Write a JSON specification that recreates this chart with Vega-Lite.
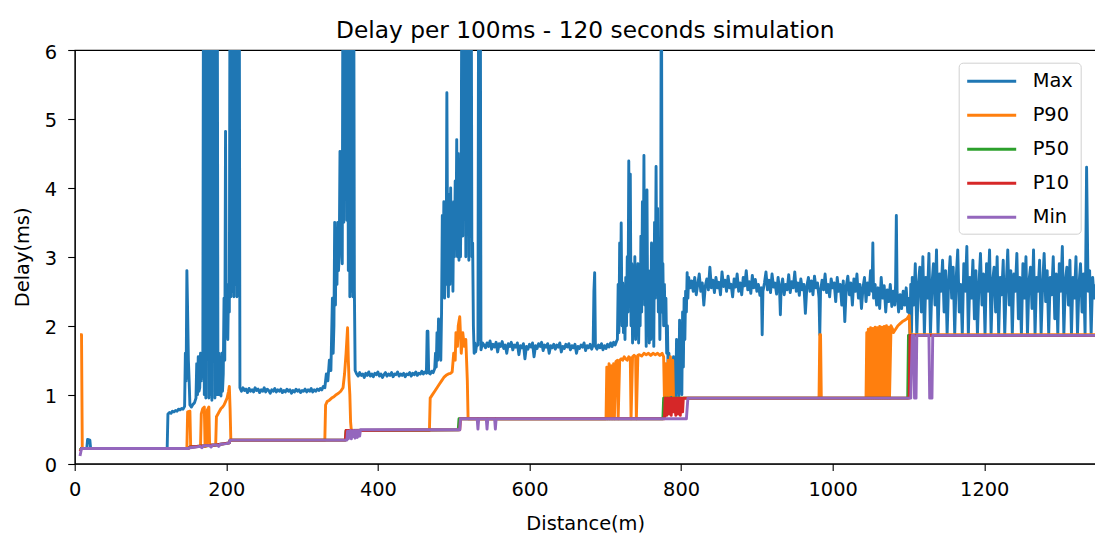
{
"$schema": "https://vega.github.io/schema/vega-lite/v6.json",
"autosize": {"type": "none"},
"padding": {"left": 74.7, "top": 50, "right": 0, "bottom": 71.4},
"width": 1021,
"height": 413.6,
"background": "white",
"title": {"text": "Delay per 100ms - 120 seconds simulation", "fontSize": 23.3, "font": "DejaVu Sans", "fontWeight": "normal", "color": "black", "anchor": "middle", "frame": "group", "baseline": "alphabetic", "offset": 14, "dy": 33},
"config": {
  "view": {"stroke": "black", "strokeWidth": 1.1},
  "axis": {"domainColor": "black", "tickColor": "black", "labelColor": "black", "titleColor": "black", "labelFont": "DejaVu Sans", "titleFont": "DejaVu Sans", "labelFontSize": 19.4, "titleFontSize": 19.4, "titleFontWeight": "normal", "tickSize": 7, "domainWidth": 1.1, "tickWidth": 1.1, "grid": false, "labelFlush": false, "labelOverlap": false},
  "legend": {"strokeColor": "#d0d0d0", "strokeWidth": 1, "fillColor": "rgba(255,255,255,0.8)", "cornerRadius": 4, "padding": 7}
},
"encoding": {
  "x": {"field": "x", "type": "quantitative", "scale": {"domain": [0, 1347], "nice": false, "zero": false}, "axis": {"title": "Distance(m)", "values": [0, 200, 400, 600, 800, 1000, 1200], "format": "d", "labelPadding": 10, "titleY": 66.4, "titleBaseline": "alphabetic"}},
  "y": {"field": "y", "type": "quantitative", "scale": {"domain": [0, 6], "nice": false, "zero": false}, "axis": {"title": "Delay(ms)", "values": [0, 1, 2, 3, 4, 5, 6], "format": "d", "labelPadding": 11, "labelOffset": 2, "titleX": -46.4, "titleBaseline": "alphabetic"}},
  "color": {"type": "nominal", "scale": {"domain": ["Max", "P90", "P50", "P10", "Min"], "range": ["#1f77b4", "#ff7f0e", "#2ca02c", "#d62728", "#9467bd"]},
    "legend": {"orient": "none", "legendX": 884, "legendY": 12.7, "title": null, "symbolType": "M-1,0H3.9", "symbolSize": 400, "symbolStrokeWidth": 2.9, "labelFontSize": 19.4, "labelFont": "DejaVu Sans", "labelColor": "black", "labelOffset": 44, "rowPadding": 13, "labelBaseline": "middle"}}
},
"layer": [
{"mark": {"type": "line", "clip": true, "strokeWidth": 2.9, "strokeJoin": "round"}, "encoding": {"color": {"datum": "Max"}},
 "data": {"values": [
{"x":7,"y":0.22},{"x":16,"y":0.22},{"x":17,"y":0.35},{"x":20,"y":0.34},{"x":21,"y":0.22},{"x":122,"y":0.22},{"x":123,"y":0.72},{"x":125,"y":0.74},{"x":127,"y":0.73},{"x":129,"y":0.76},{"x":131,"y":0.75},{"x":133,"y":0.77},{"x":135,"y":0.76},{"x":137,"y":0.79},{"x":139,"y":0.78},{"x":141,"y":0.8},{"x":143,"y":0.79},{"x":145,"y":0.83},{"x":146,"y":1.6},{"x":147,"y":1.2},{"x":148,"y":2.8},{"x":149,"y":2.2},{"x":150,"y":1.5},{"x":151,"y":1.2},{"x":152,"y":0.85},{"x":154,"y":0.82},{"x":156,"y":0.86},{"x":158,"y":0.88},{"x":160,"y":0.95},{"x":161,"y":1.45},{"x":162,"y":1.0},{"x":163,"y":1.55},{"x":164,"y":1.05},{"x":165,"y":1.1},{"x":166,"y":1.6},{"x":167,"y":1.2},{"x":168,"y":1.6},{"x":169,"y":1.3},{"x":170,"y":8},{"x":171,"y":1.0},{"x":172,"y":8},{"x":173,"y":0.95},{"x":174,"y":8},{"x":175,"y":4.4},{"x":176,"y":8},{"x":177,"y":0.95},{"x":178,"y":8},{"x":179,"y":1.0},{"x":180,"y":8},{"x":181,"y":0.92},{"x":182,"y":8},{"x":183,"y":1.65},{"x":184,"y":8},{"x":185,"y":0.95},{"x":186,"y":8},{"x":187,"y":1.0},{"x":188,"y":8},{"x":189,"y":1.0},{"x":190,"y":1.6},{"x":191,"y":1.0},{"x":192,"y":1.4},{"x":193,"y":0.98},{"x":194,"y":1.6},{"x":195,"y":1.05},{"x":196,"y":1.3},{"x":197,"y":2.4},{"x":198,"y":1.5},{"x":199,"y":4.82},{"x":200,"y":2.0},{"x":201,"y":2.42},{"x":202,"y":1.8},{"x":203,"y":2.6},{"x":204,"y":2.2},{"x":205,"y":8},{"x":206,"y":2.42},{"x":207,"y":8},{"x":208,"y":2.5},{"x":209,"y":8},{"x":210,"y":2.42},{"x":211,"y":8},{"x":212,"y":2.6},{"x":213,"y":8},{"x":214,"y":2.42},{"x":215,"y":8},{"x":216,"y":3.0},{"x":217,"y":8},{"x":218,"y":1.1},
{"x":220,"y":1.05},{"x":222,"y":1.1},{"x":224,"y":1.06},{"x":226,"y":1.08},{"x":228,"y":1.03},{"x":230,"y":1.09},{"x":232,"y":1.05},{"x":234,"y":1.07},{"x":236,"y":1.04},{"x":238,"y":1.1},{"x":240,"y":1.06},{"x":242,"y":1.08},{"x":244,"y":1.03},{"x":246,"y":1.07},{"x":248,"y":1.05},{"x":250,"y":1.1},{"x":252,"y":1.04},{"x":254,"y":1.08},{"x":256,"y":1.06},{"x":258,"y":1.02},{"x":260,"y":1.07},{"x":262,"y":1.05},{"x":264,"y":1.09},{"x":266,"y":1.04},{"x":268,"y":1.07},{"x":270,"y":1.05},{"x":272,"y":1.08},{"x":274,"y":1.03},{"x":276,"y":1.06},{"x":278,"y":1.04},{"x":280,"y":1.08},{"x":282,"y":1.05},{"x":284,"y":1.07},{"x":286,"y":1.02},{"x":288,"y":1.06},{"x":290,"y":1.04},{"x":292,"y":1.08},{"x":294,"y":1.05},{"x":296,"y":1.07},{"x":298,"y":1.03},{"x":300,"y":1.06},{"x":302,"y":1.05},{"x":304,"y":1.08},{"x":306,"y":1.04},{"x":308,"y":1.07},{"x":310,"y":1.05},{"x":312,"y":1.09},{"x":314,"y":1.04},{"x":316,"y":1.07},{"x":318,"y":1.05},{"x":320,"y":1.08},{"x":322,"y":1.06},{"x":324,"y":1.09},{"x":326,"y":1.07},{"x":328,"y":1.12},{"x":330,"y":1.1},{"x":332,"y":1.3},{"x":334,"y":1.2},{"x":336,"y":1.5},{"x":338,"y":1.35},{"x":340,"y":2.4},{"x":341,"y":1.6},{"x":342,"y":2.0},{"x":343,"y":3.5},{"x":344,"y":2.3},{"x":345,"y":3.4},{"x":346,"y":2.6},{"x":347,"y":3.5},{"x":348,"y":2.8},{"x":349,"y":3.0},{"x":350,"y":4.53},{"x":351,"y":3.2},{"x":352,"y":3.8},{"x":353,"y":2.9},{"x":354,"y":8},{"x":355,"y":3.5},{"x":356,"y":8},{"x":357,"y":4.2},{"x":358,"y":8},{"x":359,"y":3.53},{"x":360,"y":8},{"x":361,"y":2.8},{"x":362,"y":8},{"x":363,"y":2.42},{"x":364,"y":8},{"x":365,"y":2.5},{"x":366,"y":8},{"x":367,"y":2.42},{"x":368,"y":8},{"x":369,"y":2.5},{"x":370,"y":1.35},
{"x":372,"y":1.3},{"x":374,"y":1.27},{"x":376,"y":1.32},{"x":378,"y":1.28},{"x":380,"y":1.3},{"x":382,"y":1.25},{"x":384,"y":1.31},{"x":386,"y":1.28},{"x":388,"y":1.33},{"x":390,"y":1.27},{"x":392,"y":1.3},{"x":394,"y":1.26},{"x":396,"y":1.31},{"x":398,"y":1.29},{"x":400,"y":1.33},{"x":402,"y":1.27},{"x":404,"y":1.3},{"x":406,"y":1.25},{"x":408,"y":1.29},{"x":410,"y":1.32},{"x":412,"y":1.27},{"x":414,"y":1.3},{"x":416,"y":1.28},{"x":418,"y":1.32},{"x":420,"y":1.26},{"x":422,"y":1.3},{"x":424,"y":1.29},{"x":426,"y":1.33},{"x":428,"y":1.27},{"x":430,"y":1.3},{"x":432,"y":1.28},{"x":434,"y":1.31},{"x":436,"y":1.26},{"x":438,"y":1.3},{"x":440,"y":1.29},{"x":442,"y":1.32},{"x":444,"y":1.27},{"x":446,"y":1.31},{"x":448,"y":1.29},{"x":450,"y":1.33},{"x":452,"y":1.28},{"x":454,"y":1.31},{"x":456,"y":1.3},{"x":458,"y":1.34},{"x":460,"y":1.3},{"x":462,"y":1.33},{"x":464,"y":1.31},{"x":465,"y":1.92},{"x":466,"y":1.92},{"x":467,"y":1.32},{"x":469,"y":1.3},{"x":471,"y":1.34},{"x":473,"y":1.32},{"x":475,"y":1.38},{"x":476,"y":1.6},{"x":477,"y":1.4},{"x":478,"y":1.9},{"x":479,"y":1.5},{"x":480,"y":2.1},{"x":481,"y":1.6},{"x":482,"y":2.0},{"x":483,"y":1.5},{"x":484,"y":2.2},{"x":485,"y":3.6},{"x":486,"y":2.5},{"x":487,"y":3.8},{"x":488,"y":2.4},{"x":489,"y":3.5},{"x":490,"y":2.6},{"x":491,"y":5.38},{"x":492,"y":3.0},{"x":493,"y":2.42},{"x":494,"y":3.9},{"x":495,"y":2.6},{"x":496,"y":4.0},{"x":497,"y":2.8},{"x":498,"y":3.6},{"x":499,"y":2.5},{"x":500,"y":3.8},{"x":501,"y":3.0},{"x":502,"y":4.1},{"x":503,"y":3.2},{"x":504,"y":4.7},{"x":505,"y":3.0},{"x":506,"y":4.5},{"x":507,"y":2.95},{"x":508,"y":3.8},{"x":509,"y":3.0},{"x":510,"y":4.6},{"x":511,"y":8},{"x":512,"y":3.3},{"x":513,"y":8},{"x":514,"y":3.6},{"x":515,"y":8},{"x":516,"y":3.0},{"x":517,"y":8},{"x":518,"y":3.4},{"x":519,"y":8},{"x":520,"y":2.95},{"x":521,"y":8},{"x":522,"y":3.3},{"x":523,"y":8},{"x":524,"y":3.0},{"x":525,"y":3.2},{"x":526,"y":2.0},{"x":527,"y":1.6},{"x":528,"y":1.75},{"x":529,"y":1.62},{"x":530,"y":1.7},{"x":532,"y":1.72},{"x":533,"y":8},{"x":534,"y":1.8},{"x":535,"y":8},{"x":536,"y":1.65},{"x":538,"y":1.75},
{"x":540,"y":1.72},{"x":542,"y":1.68},{"x":544,"y":1.75},{"x":546,"y":1.7},{"x":548,"y":1.78},{"x":550,"y":1.66},{"x":552,"y":1.73},{"x":554,"y":1.69},{"x":556,"y":1.76},{"x":558,"y":1.62},{"x":560,"y":1.74},{"x":562,"y":1.7},{"x":564,"y":1.77},{"x":566,"y":1.67},{"x":568,"y":1.72},{"x":570,"y":1.6},{"x":572,"y":1.74},{"x":574,"y":1.7},{"x":576,"y":1.76},{"x":578,"y":1.65},{"x":580,"y":1.72},{"x":582,"y":1.69},{"x":584,"y":1.75},{"x":586,"y":1.58},{"x":588,"y":1.71},{"x":590,"y":1.68},{"x":592,"y":1.74},{"x":594,"y":1.52},{"x":596,"y":1.7},{"x":598,"y":1.66},{"x":600,"y":1.73},{"x":602,"y":1.69},{"x":604,"y":1.75},{"x":606,"y":1.55},{"x":608,"y":1.71},{"x":610,"y":1.67},{"x":612,"y":1.74},{"x":614,"y":1.7},{"x":616,"y":1.76},{"x":618,"y":1.64},{"x":620,"y":1.72},{"x":622,"y":1.69},{"x":624,"y":1.74},{"x":626,"y":1.6},{"x":628,"y":1.71},{"x":630,"y":1.68},{"x":632,"y":1.73},{"x":634,"y":1.66},{"x":636,"y":1.72},{"x":638,"y":1.69},{"x":640,"y":1.75},{"x":642,"y":1.62},{"x":644,"y":1.7},{"x":646,"y":1.67},{"x":648,"y":1.73},{"x":650,"y":1.69},{"x":652,"y":1.74},{"x":654,"y":1.65},{"x":656,"y":1.71},{"x":658,"y":1.68},{"x":660,"y":1.73},{"x":662,"y":1.6},{"x":664,"y":1.7},{"x":666,"y":1.67},{"x":668,"y":1.72},{"x":670,"y":1.69},{"x":672,"y":1.75},{"x":674,"y":1.64},{"x":676,"y":1.71},{"x":678,"y":1.68},{"x":680,"y":1.73},{"x":682,"y":1.66},{"x":684,"y":1.72},{"x":685,"y":2.5},{"x":686,"y":2.77},{"x":687,"y":1.7},{"x":689,"y":1.66},{"x":691,"y":1.72},{"x":693,"y":1.68},{"x":695,"y":1.74},{"x":697,"y":1.65},{"x":699,"y":1.71},{"x":701,"y":1.67},{"x":703,"y":1.73},{"x":705,"y":1.69},{"x":707,"y":1.75},{"x":709,"y":1.7},{"x":711,"y":1.76},{"x":713,"y":1.72},{"x":715,"y":1.78},{"x":716,"y":1.8},{"x":717,"y":2.6},{"x":718,"y":1.9},{"x":719,"y":3.2},{"x":720,"y":2.2},{"x":721,"y":3.49},{"x":722,"y":2.0},{"x":723,"y":2.62},{"x":724,"y":1.9},{"x":725,"y":2.4},{"x":726,"y":1.8},{"x":727,"y":2.7},{"x":728,"y":2.0},{"x":729,"y":3.0},{"x":730,"y":2.2},{"x":731,"y":4.39},{"x":732,"y":2.5},{"x":733,"y":4.2},{"x":734,"y":2.0},{"x":735,"y":2.9},{"x":736,"y":1.75},{"x":737,"y":2.6},{"x":738,"y":2.1},{"x":739,"y":3.0},{"x":740,"y":1.8},{"x":741,"y":2.7},{"x":742,"y":2.2},{"x":743,"y":2.9},{"x":744,"y":1.75},{"x":745,"y":2.4},{"x":746,"y":2.0},{"x":747,"y":3.3},{"x":748,"y":2.2},{"x":749,"y":3.8},{"x":750,"y":2.5},{"x":751,"y":4.47},{"x":752,"y":2.3},{"x":753,"y":3.0},{"x":754,"y":1.7},{"x":755,"y":3.97},{"x":756,"y":2.0},{"x":757,"y":2.8},{"x":758,"y":1.75},{"x":759,"y":2.5},{"x":760,"y":1.8},{"x":761,"y":3.2},{"x":762,"y":2.0},{"x":763,"y":2.7},{"x":764,"y":1.7},{"x":765,"y":3.5},{"x":766,"y":2.4},{"x":767,"y":4.31},{"x":768,"y":2.6},{"x":769,"y":3.7},{"x":770,"y":2.2},{"x":771,"y":3.0},{"x":772,"y":1.8},{"x":773,"y":2.6},{"x":774,"y":8},{"x":775,"y":2.2},{"x":776,"y":2.9},{"x":777,"y":2.0},{"x":778,"y":2.6},{"x":779,"y":2.0},{"x":780,"y":2.4},{"x":781,"y":1.6},{"x":782,"y":2.0},{"x":783,"y":1.3},{"x":784,"y":1.6},{"x":785,"y":1.0},{"x":786,"y":1.2},{"x":787,"y":0.97},{"x":788,"y":1.3},{"x":789,"y":0.97},{"x":790,"y":1.55},{"x":791,"y":1.0},{"x":792,"y":1.4},{"x":793,"y":0.97},{"x":794,"y":1.8},{"x":795,"y":1.1},{"x":796,"y":1.5},{"x":797,"y":0.97},{"x":798,"y":2.08},{"x":799,"y":1.2},{"x":800,"y":1.6},{"x":801,"y":1.0},{"x":802,"y":2.2},{"x":803,"y":1.4},{"x":804,"y":2.4},{"x":805,"y":1.8},{"x":806,"y":2.5},{"x":807,"y":2.2},{"x":808,"y":2.77},{"x":809,"y":2.4},{"x":810,"y":2.7},{"x":812,"y":2.55},
{"x":814,"y":2.65},{"x":816,"y":2.5},{"x":818,"y":2.7},{"x":820,"y":2.45},{"x":822,"y":2.6},{"x":824,"y":2.75},{"x":826,"y":2.5},{"x":828,"y":2.62},{"x":830,"y":2.3},{"x":832,"y":2.58},{"x":834,"y":2.68},{"x":836,"y":2.52},{"x":838,"y":2.85},{"x":840,"y":2.55},{"x":842,"y":2.66},{"x":844,"y":2.48},{"x":846,"y":2.7},{"x":848,"y":2.55},{"x":850,"y":2.63},{"x":852,"y":2.45},{"x":854,"y":2.78},{"x":856,"y":2.57},{"x":858,"y":2.66},{"x":860,"y":2.5},{"x":862,"y":2.72},{"x":864,"y":2.55},{"x":866,"y":2.6},{"x":868,"y":2.42},{"x":870,"y":2.68},{"x":872,"y":2.56},{"x":874,"y":2.75},{"x":876,"y":2.5},{"x":878,"y":2.62},{"x":880,"y":2.45},{"x":882,"y":2.7},{"x":884,"y":2.58},{"x":886,"y":2.8},{"x":888,"y":2.52},{"x":890,"y":2.64},{"x":892,"y":2.47},{"x":894,"y":2.73},{"x":896,"y":2.55},{"x":898,"y":2.67},{"x":900,"y":2.5},{"x":902,"y":2.6},{"x":904,"y":2.44},{"x":906,"y":2.55},{"x":907,"y":1.87},{"x":908,"y":2.5},{"x":910,"y":2.62},{"x":912,"y":2.78},{"x":914,"y":2.52},{"x":916,"y":2.66},{"x":918,"y":2.48},{"x":920,"y":2.75},{"x":922,"y":2.56},{"x":924,"y":2.62},{"x":926,"y":2.46},{"x":928,"y":2.7},{"x":930,"y":2.5},{"x":931,"y":2.16},{"x":932,"y":2.55},{"x":934,"y":2.68},{"x":936,"y":2.45},{"x":938,"y":2.6},{"x":940,"y":2.52},{"x":942,"y":2.74},{"x":944,"y":2.48},{"x":946,"y":2.64},{"x":948,"y":2.55},{"x":950,"y":2.78},{"x":952,"y":2.5},{"x":954,"y":2.62},{"x":956,"y":2.44},{"x":958,"y":2.68},{"x":960,"y":2.52},{"x":962,"y":2.6},{"x":964,"y":2.18},{"x":966,"y":2.58},{"x":968,"y":2.7},{"x":970,"y":2.5},{"x":972,"y":2.65},{"x":974,"y":2.45},{"x":976,"y":2.72},{"x":978,"y":2.55},{"x":980,"y":2.62},{"x":982,"y":2.4},{"x":983,"y":1.87},{"x":984,"y":2.5},{"x":986,"y":2.66},{"x":988,"y":2.52},{"x":990,"y":2.75},{"x":992,"y":2.48},{"x":994,"y":2.6},{"x":996,"y":2.42},{"x":998,"y":2.68},{"x":1000,"y":2.55},{"x":1002,"y":2.62},{"x":1004,"y":2.35},{"x":1006,"y":2.7},{"x":1008,"y":2.5},{"x":1010,"y":2.6},{"x":1012,"y":2.3},{"x":1014,"y":2.65},{"x":1016,"y":2.06},{"x":1018,"y":2.58},{"x":1020,"y":2.72},{"x":1022,"y":2.45},{"x":1024,"y":2.62},{"x":1026,"y":2.3},{"x":1028,"y":2.68},{"x":1030,"y":2.5},{"x":1032,"y":2.75},{"x":1034,"y":2.4},{"x":1036,"y":2.6},{"x":1038,"y":2.25},{"x":1040,"y":2.55},{"x":1042,"y":2.7},{"x":1044,"y":2.35},{"x":1046,"y":2.62},{"x":1048,"y":2.45},{"x":1050,"y":2.8},{"x":1052,"y":2.5},{"x":1053,"y":3.2},{"x":1054,"y":2.4},{"x":1056,"y":2.6},{"x":1058,"y":2.3},{"x":1060,"y":2.55},{"x":1062,"y":2.25},{"x":1064,"y":2.7},{"x":1066,"y":2.4},{"x":1068,"y":2.58},{"x":1070,"y":2.2},{"x":1072,"y":2.52},{"x":1074,"y":2.35},{"x":1076,"y":2.6},{"x":1078,"y":2.28},{"x":1080,"y":2.5},{"x":1082,"y":2.3},{"x":1083,"y":2.6},{"x":1084,"y":3.6},{"x":1085,"y":2.5},{"x":1087,"y":2.2},{"x":1089,"y":2.45},{"x":1091,"y":2.25},{"x":1093,"y":2.5},{"x":1095,"y":2.3},{"x":1097,"y":2.55},{"x":1099,"y":2.2},{"x":1101,"y":2.4},{"x":1102,"y":1.87},{"x":1103,"y":2.6},{"x":1104,"y":1.9},{"x":1105,"y":2.7},
{"x":1107,"y":2.3},{"x":1109,"y":2.9},{"x":1111,"y":1.87},{"x":1113,"y":2.6},{"x":1115,"y":2.85},{"x":1117,"y":2.2},{"x":1119,"y":3.0},{"x":1121,"y":1.87},{"x":1123,"y":2.7},{"x":1125,"y":2.4},{"x":1127,"y":3.05},{"x":1129,"y":1.87},{"x":1131,"y":2.6},{"x":1133,"y":2.9},{"x":1135,"y":2.3},{"x":1137,"y":3.1},{"x":1139,"y":1.87},{"x":1141,"y":2.75},{"x":1143,"y":2.5},{"x":1145,"y":2.95},{"x":1147,"y":2.2},{"x":1149,"y":2.8},{"x":1151,"y":1.87},{"x":1153,"y":2.65},{"x":1155,"y":3.0},{"x":1157,"y":2.4},{"x":1159,"y":2.85},{"x":1161,"y":1.87},{"x":1163,"y":2.7},{"x":1165,"y":3.1},{"x":1167,"y":2.2},{"x":1169,"y":2.6},{"x":1171,"y":1.87},{"x":1173,"y":2.9},{"x":1175,"y":2.5},{"x":1177,"y":3.15},{"x":1179,"y":1.87},{"x":1181,"y":2.7},{"x":1183,"y":2.4},{"x":1185,"y":2.95},{"x":1187,"y":2.1},{"x":1189,"y":2.8},{"x":1191,"y":1.87},{"x":1193,"y":2.6},{"x":1195,"y":3.05},{"x":1197,"y":2.3},{"x":1199,"y":2.75},{"x":1201,"y":1.87},{"x":1203,"y":2.9},{"x":1205,"y":2.5},{"x":1207,"y":3.1},{"x":1209,"y":1.87},{"x":1211,"y":2.65},{"x":1213,"y":2.85},{"x":1215,"y":2.2},{"x":1217,"y":3.0},{"x":1219,"y":1.87},{"x":1221,"y":2.7},{"x":1223,"y":2.45},{"x":1225,"y":2.95},{"x":1227,"y":1.87},{"x":1229,"y":2.6},{"x":1231,"y":3.1},{"x":1233,"y":2.3},{"x":1235,"y":2.8},{"x":1237,"y":1.87},{"x":1239,"y":2.75},{"x":1241,"y":2.5},{"x":1243,"y":3.05},{"x":1245,"y":2.1},{"x":1247,"y":2.7},{"x":1249,"y":1.87},{"x":1251,"y":2.9},{"x":1253,"y":2.4},{"x":1255,"y":3.0},{"x":1257,"y":1.87},{"x":1259,"y":2.65},{"x":1261,"y":2.85},{"x":1263,"y":2.25},{"x":1265,"y":3.1},{"x":1267,"y":1.87},{"x":1269,"y":2.7},{"x":1271,"y":2.5},{"x":1273,"y":2.95},{"x":1275,"y":1.87},{"x":1277,"y":2.6},{"x":1279,"y":3.05},{"x":1281,"y":2.35},{"x":1283,"y":2.8},{"x":1285,"y":1.87},{"x":1287,"y":2.7},{"x":1289,"y":2.45},{"x":1291,"y":3.0},{"x":1293,"y":2.1},{"x":1295,"y":2.75},{"x":1297,"y":1.87},{"x":1299,"y":2.9},{"x":1301,"y":2.5},{"x":1303,"y":3.15},{"x":1305,"y":1.87},{"x":1307,"y":2.65},{"x":1309,"y":2.85},{"x":1311,"y":2.3},{"x":1313,"y":2.95},{"x":1315,"y":1.87},{"x":1317,"y":2.7},{"x":1319,"y":2.4},{"x":1321,"y":3.0},{"x":1323,"y":1.87},{"x":1325,"y":2.6},{"x":1327,"y":2.9},{"x":1329,"y":2.2},{"x":1331,"y":2.75},{"x":1333,"y":1.87},{"x":1335,"y":4.3},{"x":1337,"y":2.5},{"x":1339,"y":2.8},{"x":1341,"y":1.87},{"x":1343,"y":2.7},{"x":1345,"y":2.4},{"x":1347,"y":2.6}
]}},
{"mark": {"type": "line", "clip": true, "strokeWidth": 2.9, "strokeJoin": "round"}, "encoding": {"color": {"datum": "P90"}},
 "data": {"values": [
{"x":7,"y":1.87},{"x":9,"y":1.87},{"x":10,"y":0.22},{"x":148,"y":0.22},{"x":149,"y":0.75},{"x":152,"y":0.76},{"x":153,"y":0.24},{"x":166,"y":0.25},{"x":167,"y":0.72},{"x":169,"y":0.8},{"x":171,"y":0.82},{"x":172,"y":0.25},{"x":174,"y":0.26},{"x":175,"y":0.78},{"x":177,"y":0.82},{"x":178,"y":0.27},{"x":186,"y":0.27},{"x":187,"y":0.68},{"x":189,"y":0.72},{"x":191,"y":0.76},{"x":193,"y":0.8},{"x":195,"y":0.82},{"x":197,"y":0.85},{"x":199,"y":0.9},{"x":201,"y":0.95},{"x":203,"y":1.05},{"x":204,"y":1.12},{"x":205,"y":0.8},{"x":206,"y":0.34},{"x":330,"y":0.34},{"x":331,"y":0.85},{"x":333,"y":0.9},{"x":336,"y":0.92},{"x":339,"y":0.95},{"x":342,"y":0.97},{"x":345,"y":1.0},{"x":348,"y":1.02},{"x":351,"y":1.05},{"x":354,"y":1.1},{"x":356,"y":1.3},{"x":358,"y":1.6},{"x":360,"y":1.97},{"x":361,"y":1.5},{"x":362,"y":1.2},{"x":363,"y":1.0},{"x":364,"y":0.6},{"x":365,"y":0.48},{"x":468,"y":0.48},{"x":469,"y":0.95},{"x":472,"y":1.0},{"x":475,"y":1.05},{"x":478,"y":1.1},{"x":481,"y":1.15},{"x":484,"y":1.2},{"x":487,"y":1.25},{"x":490,"y":1.28},{"x":493,"y":1.3},{"x":496,"y":1.31},{"x":498,"y":1.33},{"x":500,"y":1.6},{"x":502,"y":1.5},{"x":503,"y":1.9},{"x":505,"y":1.7},{"x":506,"y":2.0},{"x":508,"y":2.13},{"x":510,"y":1.6},{"x":512,"y":1.9},{"x":514,"y":1.7},{"x":516,"y":1.8},{"x":518,"y":1.2},{"x":519,"y":0.65},{"x":701,"y":0.65},{"x":702,"y":1.4},{"x":703,"y":0.65},{"x":705,"y":1.45},{"x":706,"y":0.65},{"x":708,"y":1.42},{"x":709,"y":0.65},{"x":711,"y":1.45},{"x":712,"y":0.65},{"x":714,"y":1.48},{"x":716,"y":1.5},{"x":717,"y":0.65},{"x":719,"y":1.5},{"x":721,"y":1.52},{"x":723,"y":1.5},{"x":725,"y":1.55},{"x":727,"y":1.52},{"x":729,"y":1.5},{"x":731,"y":1.55},{"x":733,"y":1.53},{"x":734,"y":0.65},{"x":736,"y":1.55},{"x":738,"y":1.57},{"x":740,"y":1.55},{"x":741,"y":0.65},{"x":743,"y":1.57},{"x":745,"y":1.58},{"x":748,"y":1.56},{"x":751,"y":1.6},{"x":754,"y":1.58},{"x":757,"y":1.6},{"x":760,"y":1.57},{"x":763,"y":1.6},{"x":766,"y":1.58},{"x":769,"y":1.6},{"x":772,"y":1.57},{"x":775,"y":1.6},{"x":777,"y":1.55},{"x":778,"y":0.95},{"x":780,"y":1.45},{"x":781,"y":0.95},{"x":783,"y":1.5},{"x":784,"y":0.95},{"x":786,"y":1.55},{"x":787,"y":1.0},{"x":789,"y":1.5},{"x":790,"y":0.95},{"x":982,"y":0.95},{"x":983,"y":1.87},{"x":984,"y":1.87},{"x":985,"y":0.95},{"x":1044,"y":0.95},{"x":1045,"y":1.9},{"x":1046,"y":0.95},{"x":1047,"y":1.95},{"x":1048,"y":0.95},{"x":1050,"y":1.97},{"x":1051,"y":0.95},{"x":1053,"y":1.96},{"x":1054,"y":0.95},{"x":1056,"y":1.98},{"x":1057,"y":0.95},{"x":1059,"y":1.97},{"x":1060,"y":0.95},{"x":1062,"y":1.99},{"x":1063,"y":0.95},{"x":1065,"y":1.98},{"x":1066,"y":0.95},{"x":1068,"y":1.99},{"x":1069,"y":0.95},{"x":1071,"y":2.0},{"x":1072,"y":0.95},{"x":1074,"y":1.98},{"x":1075,"y":0.95},{"x":1077,"y":2.0},{"x":1079,"y":1.95},{"x":1080,"y":1.9},{"x":1083,"y":1.95},{"x":1086,"y":2.0},{"x":1089,"y":2.03},{"x":1092,"y":2.06},{"x":1095,"y":2.08},{"x":1098,"y":2.1},{"x":1101,"y":2.15},{"x":1102,"y":1.87},{"x":1347,"y":1.87}
]}},
{"mark": {"type": "line", "clip": true, "strokeWidth": 2.9, "strokeJoin": "round"}, "encoding": {"color": {"datum": "P50"}},
 "data": {"values": [
{"x":7,"y":0.2},{"x":9,"y":0.22},{"x":150,"y":0.22},{"x":152,"y":0.24},{"x":186,"y":0.27},{"x":204,"y":0.3},{"x":205,"y":0.34},{"x":357,"y":0.34},{"x":358,"y":0.48},{"x":506,"y":0.49},{"x":507,"y":0.65},{"x":776,"y":0.65},{"x":777,"y":0.95},{"x":1099,"y":0.95},{"x":1100,"y":1.86},{"x":1347,"y":1.86}
]}},
{"mark": {"type": "line", "clip": true, "strokeWidth": 2.9, "strokeJoin": "round"}, "encoding": {"color": {"datum": "P10"}},
 "data": {"values": [
{"x":7,"y":0.18},{"x":9,"y":0.22},{"x":150,"y":0.22},{"x":152,"y":0.24},{"x":186,"y":0.27},{"x":204,"y":0.3},{"x":205,"y":0.34},{"x":357,"y":0.34},{"x":358,"y":0.48},{"x":508,"y":0.49},{"x":509,"y":0.65},{"x":778,"y":0.65},{"x":779,"y":0.95},{"x":781,"y":0.7},{"x":782,"y":0.95},{"x":784,"y":0.72},{"x":785,"y":0.95},{"x":787,"y":0.7},{"x":788,"y":0.95},{"x":790,"y":0.75},{"x":791,"y":0.95},{"x":793,"y":0.7},{"x":794,"y":0.95},{"x":796,"y":0.72},{"x":797,"y":0.95},{"x":799,"y":0.7},{"x":800,"y":0.95},{"x":802,"y":0.75},{"x":803,"y":0.95},{"x":1101,"y":0.95},{"x":1102,"y":1.86},{"x":1347,"y":1.86}
]}},
{"mark": {"type": "line", "clip": true, "strokeWidth": 2.9, "strokeJoin": "round"}, "encoding": {"color": {"datum": "Min"}},
 "data": {"values": [
{"x":7,"y":0.11},{"x":9,"y":0.22},{"x":150,"y":0.22},{"x":152,"y":0.23},{"x":160,"y":0.24},{"x":165,"y":0.25},{"x":168,"y":0.23},{"x":170,"y":0.26},{"x":178,"y":0.26},{"x":180,"y":0.24},{"x":182,"y":0.27},{"x":188,"y":0.27},{"x":190,"y":0.25},{"x":192,"y":0.28},{"x":200,"y":0.29},{"x":204,"y":0.3},{"x":205,"y":0.34},{"x":359,"y":0.34},{"x":360,"y":0.47},{"x":361,"y":0.36},{"x":362,"y":0.47},{"x":363,"y":0.4},{"x":364,"y":0.48},{"x":365,"y":0.36},{"x":366,"y":0.47},{"x":367,"y":0.39},{"x":368,"y":0.48},{"x":370,"y":0.37},{"x":371,"y":0.48},{"x":373,"y":0.38},{"x":374,"y":0.48},{"x":376,"y":0.4},{"x":377,"y":0.49},{"x":508,"y":0.49},{"x":509,"y":0.65},{"x":531,"y":0.65},{"x":532,"y":0.5},{"x":533,"y":0.65},{"x":543,"y":0.65},{"x":544,"y":0.5},{"x":545,"y":0.65},{"x":554,"y":0.65},{"x":555,"y":0.5},{"x":556,"y":0.65},{"x":807,"y":0.65},{"x":809,"y":0.95},{"x":1103,"y":0.95},{"x":1105,"y":1.86},{"x":1107,"y":1.86},{"x":1108,"y":0.95},{"x":1110,"y":0.95},{"x":1111,"y":1.86},{"x":1127,"y":1.86},{"x":1128,"y":0.95},{"x":1131,"y":0.95},{"x":1132,"y":1.86},{"x":1347,"y":1.86}
]}}
]
}
